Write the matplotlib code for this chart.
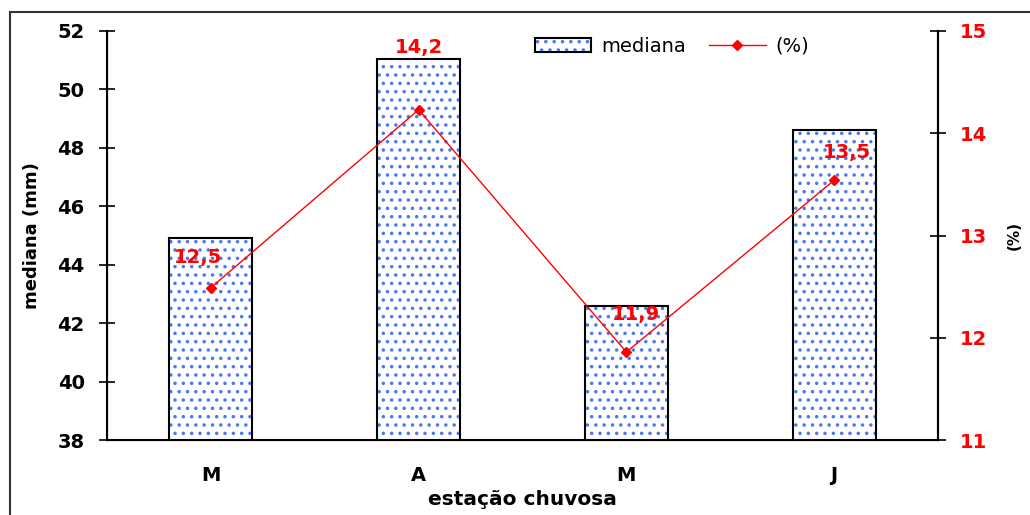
import matplotlib
matplotlib.use("Agg")
import matplotlib.pyplot as plt
from matplotlib.patches import Rectangle, Patch
from matplotlib.lines import Line2D

categories = ["M", "A", "M", "J"]
mediana = [44.9, 51.05, 42.6, 48.6]
percent = [12.5, 14.2, 11.9, 13.5]
percent_pos = [12.49, 14.23, 11.86, 13.54]
left_ticks = [38, 40, 42, 44, 46, 48, 50, 52]
right_ticks = [11, 12, 13, 14, 15]

# label offsets in points (layout only)
label_offsets = [(-9, 22), (0, 45), (7, 27), (9, 20)]

plt.rcParams['font.family'] = ['DejaVu Sans']
plt.rcParams['hatch.linewidth'] = 1.3

BLUE = '#4a78f0'
HATCH = '..'

fig = plt.figure(figsize=(10.3, 5.15), dpi=100)
fig.patches.append(Rectangle((10/1030, -0.05), 1.1, 1 - 12/515 + 0.05,
                             transform=fig.transFigure, fill=False,
                             edgecolor='#333333', linewidth=1.5))

ax = fig.add_axes([107/1030, 1 - 440/515, (938 - 107)/1030, (440 - 31)/515])
x = list(range(len(categories)))
ax.bar(x, mediana, width=0.4, color='white', edgecolor=BLUE, hatch=HATCH,
       linewidth=0, zorder=2)
ax.bar(x, mediana, width=0.4, fill=False, edgecolor='black', linewidth=1.5, zorder=3)
ax.set_ylim(38, 52)
ax.set_xlim(-0.5, 3.5)
ax.set_yticks(left_ticks)
ax.set_xticks(x)
ax.set_xticklabels(categories, fontsize=14, fontweight='bold')
ax.tick_params(axis='x', length=0, pad=19)
ax.tick_params(axis='y', direction='inout', length=12, width=1.2, labelsize=14, pad=10)
for t in ax.get_yticklabels():
    t.set_fontweight('bold')
ax.spines['top'].set_visible(False)
for s in ['left', 'right', 'bottom']:
    ax.spines[s].set_linewidth(1.5)
ax.set_ylabel("mediana (mm)", fontsize=13, fontweight='bold', labelpad=12)
ax.set_xlabel("estação chuvosa", fontsize=14.5, fontweight='semibold', labelpad=3)

ax2 = ax.twinx()
ax2.plot(x, percent_pos, color='red', linewidth=1.0, marker='D', markersize=5, zorder=5)
ax2.set_ylim(11, 15)
ax2.set_yticks(right_ticks)
ax2.tick_params(axis='y', direction='inout', length=12, width=1.2, labelsize=14,
                pad=10, labelcolor='red')
for t in ax2.get_yticklabels():
    t.set_fontweight('bold')
ax2.spines['top'].set_visible(False)
ax2.spines['right'].set_linewidth(1.5)
ax2.set_ylabel("(%)", fontsize=11, fontweight='bold', rotation=90, labelpad=14)
ax2.yaxis.set_label_position('right')

for xi, yp, v, off in zip(x, percent_pos, percent, label_offsets):
    ax2.annotate(f"{v:.1f}".replace('.', ','), (xi, yp), xytext=off,
                 textcoords='offset points', ha='center', va='center',
                 color='red', fontsize=14, fontweight='bold', zorder=6)

bar_handle = (Patch(facecolor='white', edgecolor=BLUE, hatch=HATCH, linewidth=0),
              Patch(fill=False, edgecolor='black', linewidth=1.5))
line_handle = Line2D([0], [0], color='red', linewidth=1.0, marker='D', markersize=5)
fig.legend([bar_handle, line_handle], ["mediana", "(%)"], loc='center',
           bbox_to_anchor=(672/1030, 1 - 46/515), ncol=2, frameon=False,
           fontsize=14, handlelength=2.9, handletextpad=0.5, columnspacing=1.2)

fig.savefig("out.png", dpi=100)
